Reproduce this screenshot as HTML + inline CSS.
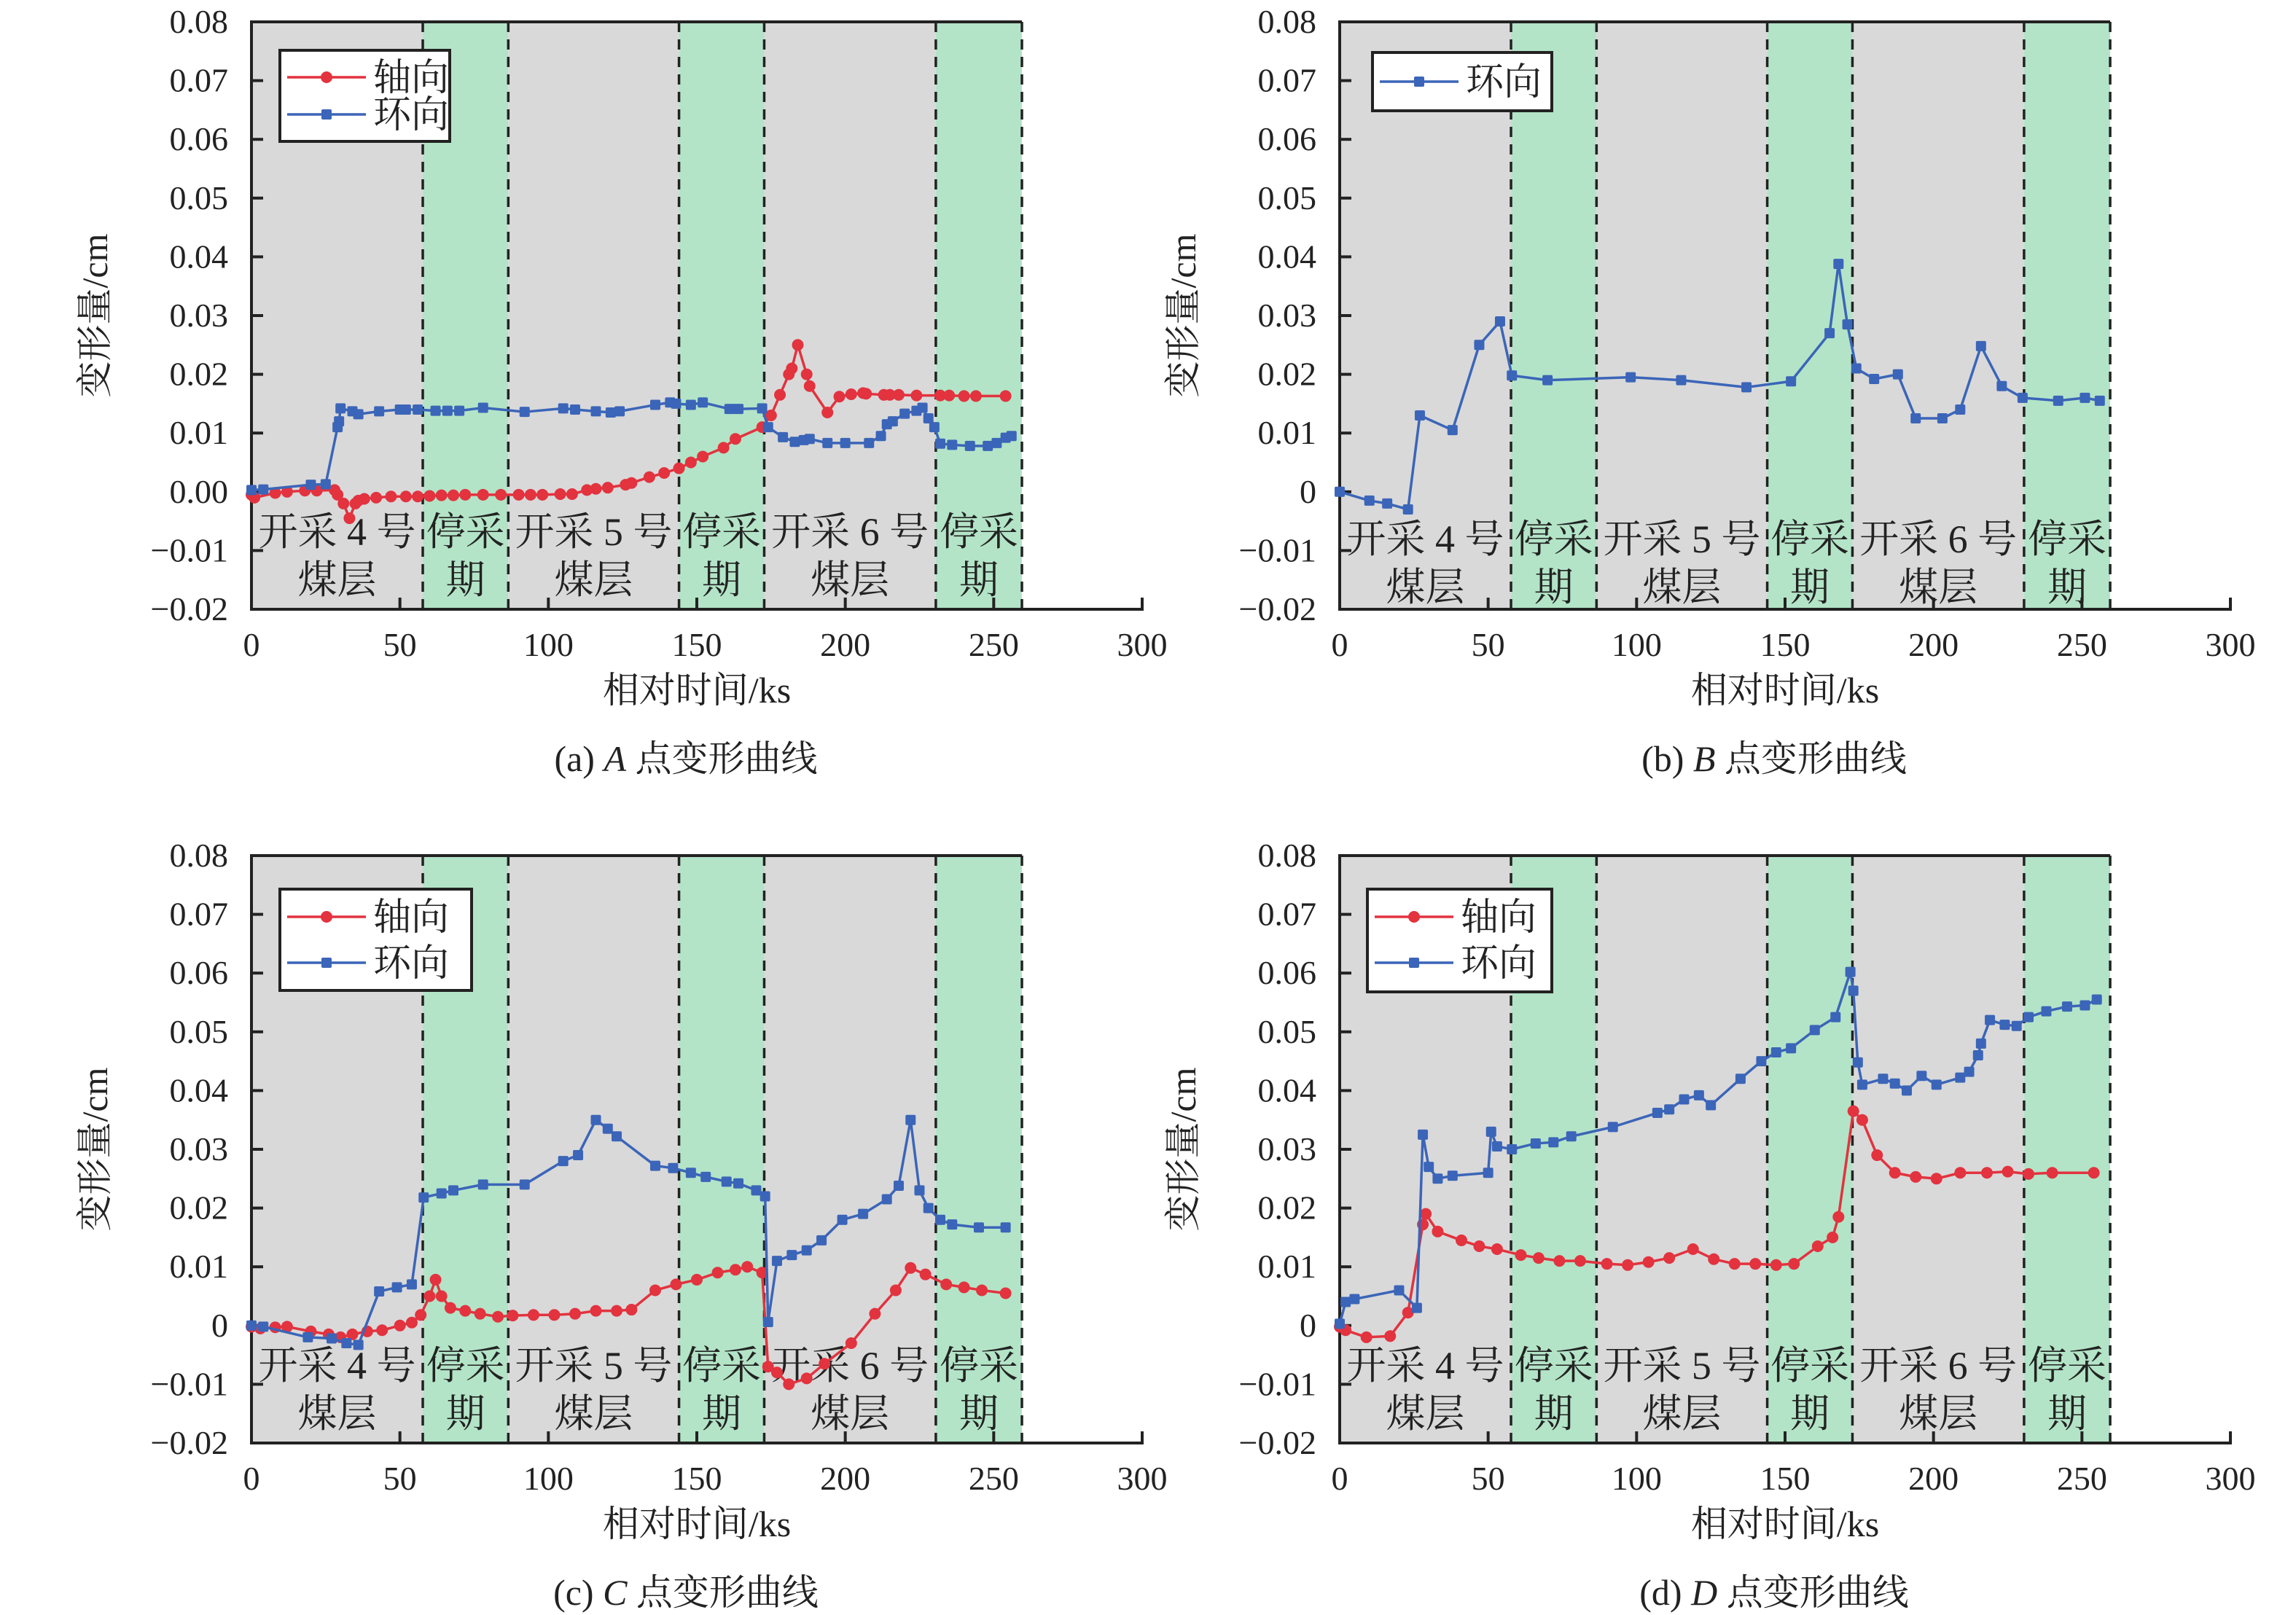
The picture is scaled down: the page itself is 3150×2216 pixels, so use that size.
<!DOCTYPE html>
<html><head><meta charset="utf-8"><style>
html,body{margin:0;padding:0;background:#fff;}
svg{display:block;font-family:"Liberation Serif","Noto Serif CJK SC",serif;}
</style></head><body>
<svg id="fig" width="3150" height="2216" viewBox="0 0 3150 2216" xmlns="http://www.w3.org/2000/svg"></svg>
<script>
// ---- data ----
const xTicks = [0,50,100,150,200,250,300];
const yTicks = [0.08,0.07,0.06,0.05,0.04,0.03,0.02,0.01,0,-0.01,-0.02];
const phaseBounds = [0,57.7,86.5,144,172.7,230.5,259.5];
const phaseTop = ["开采 4 号","停采","开采 5 号","停采","开采 6 号","停采"];
const phaseBottom = ["煤层","期","煤层","期","煤层","期"];

const aAxialX = [0,1,8,12,18,22,28,29,31,33,35,36,38,42,47,52,56,60,64,68,72,78,84,90,94,98,104,108,113,116,120,126,128,134,139,144,148,152,159,163,172,175,178,181,182,184,187,188,194,198,202,206,207,213,215,218,224,232,235,240,244,254];
const aAxialY = [-0.0005,-0.001,-0.0002,0,0.0002,0.0002,0.0003,-0.0005,-0.002,-0.0045,-0.002,-0.0015,-0.0012,-0.001,-0.0008,-0.0008,-0.0008,-0.0007,-0.0006,-0.0006,-0.0005,-0.0005,-0.0005,-0.0005,-0.0005,-0.0005,-0.0004,-0.0004,0.0003,0.0005,0.0007,0.0012,0.0015,0.0025,0.0032,0.004,0.005,0.006,0.0075,0.009,0.011,0.013,0.0165,0.020,0.021,0.025,0.020,0.018,0.0135,0.0162,0.0166,0.0168,0.0167,0.0165,0.0165,0.0165,0.0164,0.0164,0.0164,0.0163,0.0163,0.0163];
const aHoopX = [0,4,20,25,29,29.5,30,34,36,43,50,52,56,62,66,70,78,92,105,109,116,121,124,136,141,143,148,152,161,164,172,174,179,183,186,188,194,200,208,212,214,216,220,224,226,228,230,232,236,242,248,251,254,256];
const aHoopY = [0.0003,0.0004,0.0012,0.0013,0.011,0.012,0.0142,0.0137,0.0132,0.0137,0.014,0.014,0.014,0.0138,0.0138,0.0138,0.0143,0.0136,0.0142,0.014,0.0137,0.0135,0.0137,0.0148,0.0152,0.015,0.0148,0.0152,0.0141,0.0141,0.0142,0.011,0.0093,0.0085,0.0088,0.009,0.0083,0.0083,0.0083,0.0095,0.0115,0.012,0.0133,0.0138,0.0143,0.0125,0.011,0.0082,0.008,0.0078,0.0078,0.0083,0.0092,0.0095];

const bHoopX = [0,10,16,23,27,38,47,54,58,70,98,115,137,152,165,168,171,174,180,188,194,203,209,216,223,230,242,251,256];
const bHoopY = [0,-0.0015,-0.002,-0.003,0.013,0.0105,0.025,0.029,0.0198,0.019,0.0195,0.019,0.0178,0.0188,0.027,0.0388,0.0285,0.021,0.0192,0.02,0.0125,0.0125,0.014,0.0248,0.018,0.016,0.0155,0.016,0.0155];

const cAxialX = [0,3,8,12,20,26,30,34,39,44,50,54,57,60,62,64,67,72,77,83,88,95,102,109,116,123,128,136,143,150,157,163,167,172,174,177,181,187,193,202,210,217,222,227,234,240,246,254];
const cAxialY = [-0.0002,-0.0005,-0.0003,-0.0002,-0.001,-0.0015,-0.002,-0.0015,-0.001,-0.0008,0,0.0005,0.0018,0.005,0.0078,0.005,0.003,0.0025,0.002,0.0015,0.0017,0.0018,0.0018,0.002,0.0025,0.0025,0.0027,0.006,0.007,0.0078,0.009,0.0095,0.01,0.009,-0.007,-0.008,-0.01,-0.009,-0.0065,-0.003,0.002,0.006,0.0098,0.0087,0.007,0.0065,0.006,0.0055];
const cHoopX = [0,4,19,27,32,36,43,49,54,58,64,68,78,92,105,110,116,120,123,136,142,148,153,160,164,170,173,174,177,182,187,192,199,206,214,218,222,225,228,232,236,245,254];
const cHoopY = [0,-0.0002,-0.002,-0.0022,-0.003,-0.0033,0.0058,0.0065,0.007,0.0218,0.0225,0.023,0.024,0.024,0.028,0.029,0.035,0.0335,0.0322,0.0272,0.0268,0.026,0.0253,0.0245,0.0242,0.023,0.022,0.0006,0.011,0.012,0.0128,0.0145,0.018,0.019,0.0215,0.0238,0.035,0.023,0.02,0.018,0.0172,0.0167,0.0167];

const dAxialX = [0,2,9,17,23,28,29,33,41,47,53,61,67,74,81,90,97,104,111,119,126,133,140,147,153,161,166,168,173,176,181,187,194,201,209,218,225,232,240,254];
const dAxialY = [-0.0002,-0.0008,-0.002,-0.0018,0.0022,0.0172,0.019,0.016,0.0145,0.0135,0.013,0.012,0.0115,0.011,0.011,0.0105,0.0103,0.0108,0.0115,0.013,0.0113,0.0105,0.0105,0.0103,0.0105,0.0135,0.015,0.0185,0.0365,0.035,0.029,0.026,0.0253,0.025,0.026,0.026,0.0262,0.0258,0.026,0.026];
const dHoopX = [0,2,5,20,26,28,30,33,38,50,51,53,58,66,72,78,92,107,111,116,121,125,135,142,147,152,160,167,172,173,174.5,176,183,187,191,196,201,209,212,215,216,219,224,228,232,238,245,251,255];
const dHoopY = [0.0003,0.004,0.0045,0.006,0.003,0.0325,0.027,0.025,0.0255,0.026,0.033,0.0305,0.03,0.031,0.0312,0.0322,0.0338,0.0362,0.0368,0.0385,0.0392,0.0375,0.042,0.045,0.0465,0.0472,0.0503,0.0525,0.0602,0.057,0.0448,0.041,0.042,0.0412,0.040,0.0425,0.041,0.0422,0.0432,0.046,0.048,0.052,0.0512,0.051,0.0525,0.0535,0.0543,0.0545,0.0555];

// ---- drawing ----
const NS = "http://www.w3.org/2000/svg";
const svg = document.getElementById('fig');
const W = 1222, H = 806, XMAX = 300, YMIN = -0.02, YMAX = 0.08;
const RED = '#e2333f', BLUE = '#3b65b8';
function mk(tag, attrs, parent){ const e=document.createElementNS(NS,tag); for(const k in attrs) e.setAttribute(k,attrs[k]); parent.appendChild(e); return e; }
function xs(v){ return v*W/XMAX; }
function ys(v){ return (YMAX-v)/(YMAX-YMIN)*H; }

function panel(ox, oy, key, caption, series, legend, zeroLabel, phaseDy){
  const g = mk('g',{transform:`translate(${ox},${oy})`},svg);
  
  
  // phases
  for(let i=0;i<6;i++){
    const r = mk('rect',{x:xs(phaseBounds[i]),y:0,width:xs(phaseBounds[i+1])-xs(phaseBounds[i]),height:H,fill:i%2?'#b3e4c7':'#d9d9d9'},g);
    
    
  }
  mk('line',{x1:0,y1:0,x2:xs(phaseBounds[6]),y2:0,stroke:'#222','stroke-width':4},g);
  for(let i=1;i<7;i++){
    mk('line',{x1:xs(phaseBounds[i]),y1:0,x2:xs(phaseBounds[i]),y2:H,stroke:'#222','stroke-width':3.5,'stroke-dasharray':'14,10'},g);
  }
  // phase labels
  for(let i=0;i<6;i++){
    const cx = (xs(phaseBounds[i])+xs(phaseBounds[i+1]))/2;
    const t1 = mk('text',{x:cx,y:718+phaseDy,'text-anchor':'middle','font-size':54,fill:'#222'},g);
    t1.textContent = phaseTop[i];
    
    
    const t2 = mk('text',{x:cx,y:784+phaseDy,'text-anchor':'middle','font-size':54,fill:'#222'},g);
    t2.textContent = phaseBottom[i];
    
    
  }
  // axes
  mk('line',{x1:0,y1:-2,x2:0,y2:H+2,stroke:'#222','stroke-width':4},g);
  mk('line',{x1:-2,y1:H,x2:W+2,y2:H,stroke:'#222','stroke-width':4},g);
  const yt = mk('g',{},g);
  
  
  yTicks.forEach(v=>{
    const y = ys(v);
    mk('line',{x1:0,y1:y,x2:16,y2:y,stroke:'#222','stroke-width':4},yt);
    const t = mk('text',{x:-32,y:y+15,'text-anchor':'end','font-size':46,fill:'#222'},yt);
    t.textContent = v===0 ? zeroLabel : (v<0 ? '\u2212'+Math.abs(v).toFixed(2) : v.toFixed(2));
  });
  const xt = mk('g',{},g);
  
  
  xTicks.forEach(v=>{
    const x = xs(v);
    mk('line',{x1:x,y1:H,x2:x,y2:H-16,stroke:'#222','stroke-width':4},xt);
    const t = mk('text',{x:x,y:H+64,'text-anchor':'middle','font-size':46,fill:'#222'},xt);
    t.textContent = v;
  });
  const yTitle = mk('text',{transform:`translate(-198,${H/2}) rotate(-90)`,'text-anchor':'middle','font-size':50,fill:'#222'},g);
  yTitle.textContent = '变形量/cm';
  
  
  const xTitle = mk('text',{x:W/2,y:H+128,'text-anchor':'middle','font-size':50,fill:'#222'},g);
  xTitle.textContent = '相对时间/ks';
  
  
  const cap = mk('text',{x:W/2-15,y:H+222,'text-anchor':'middle','font-size':50,fill:'#222'},g);
  cap.innerHTML = caption;
  
  
  // series
  series.forEach(s=>{
    const sg = mk('g',{},g);
    
    
    const pts = s.x.map((xv,i)=>xs(xv)+','+ys(s.y[i])).join(' ');
    mk('polyline',{points:pts,fill:'none',stroke:s.color,'stroke-width':3.5,'stroke-linejoin':'round'},sg);
    s.x.forEach((xv,i)=>{
      let m;
      if(s.marker==='circle') m = mk('circle',{cx:xs(xv),cy:ys(s.y[i]),r:8,fill:s.color},sg);
      else m = mk('rect',{x:xs(xv)-7,y:ys(s.y[i])-7,width:14,height:14,rx:2,fill:s.color},sg);
      
      
    });
  });
  // legend
  const lg = mk('g',{},g);
  
  
  mk('rect',{x:legend.x,y:legend.y,width:legend.w,height:legend.h,fill:'#fff',stroke:'#222','stroke-width':4},lg);
  legend.items.forEach((it,i)=>{
    const y = legend.y0 + i*legend.dy;
    const le = mk('g',{},lg);
    
    
    mk('line',{x1:legend.x+10,y1:y,x2:legend.x+118,y2:y,stroke:it.color,'stroke-width':3.5},le);
    if(it.marker==='circle') mk('circle',{cx:legend.x+64,cy:y,r:8,fill:it.color},le);
    else mk('rect',{x:legend.x+57,y:y-7,width:14,height:14,rx:2,fill:it.color},le);
    const t = mk('text',{x:legend.x+128,y:y+18,'font-size':52,fill:'#222'},le);
    t.textContent = it.label;
  });
}

const axialItem = {label:'轴向',color:RED,marker:'circle'};
const hoopItem = {label:'环向',color:BLUE,marker:'square'};

panel(345,30,'a','(a) <tspan font-style="italic">A</tspan> 点变形曲线',
  [{name:'series-axial',x:aAxialX,y:aAxialY,color:RED,marker:'circle'},{name:'series-hoop',x:aHoopX,y:aHoopY,color:BLUE,marker:'square'}],
  {x:39,y:39,w:233,h:125,y0:76,dy:51,items:[axialItem,hoopItem]},'0.00',0);
panel(1838,30,'b','(b) <tspan font-style="italic">B</tspan> 点变形曲线',
  [{name:'series-hoop',x:bHoopX,y:bHoopY,color:BLUE,marker:'square'}],
  {x:45,y:42,w:246,h:80,y0:82,dy:0,items:[hoopItem]},'0',10);
panel(345,1174,'c','(c) <tspan font-style="italic">C</tspan> 点变形曲线',
  [{name:'series-axial',x:cAxialX,y:cAxialY,color:RED,marker:'circle'},{name:'series-hoop',x:cHoopX,y:cHoopY,color:BLUE,marker:'square'}],
  {x:39,y:46,w:263,h:139,y0:84,dy:63,items:[axialItem,hoopItem]},'0',0);
panel(1838,1174,'d','(d) <tspan font-style="italic">D</tspan> 点变形曲线',
  [{name:'series-axial',x:dAxialX,y:dAxialY,color:RED,marker:'circle'},{name:'series-hoop',x:dHoopX,y:dHoopY,color:BLUE,marker:'square'}],
  {x:38,y:46,w:253,h:141,y0:84,dy:63,items:[axialItem,hoopItem]},'0',0);
</script>
</body></html>
